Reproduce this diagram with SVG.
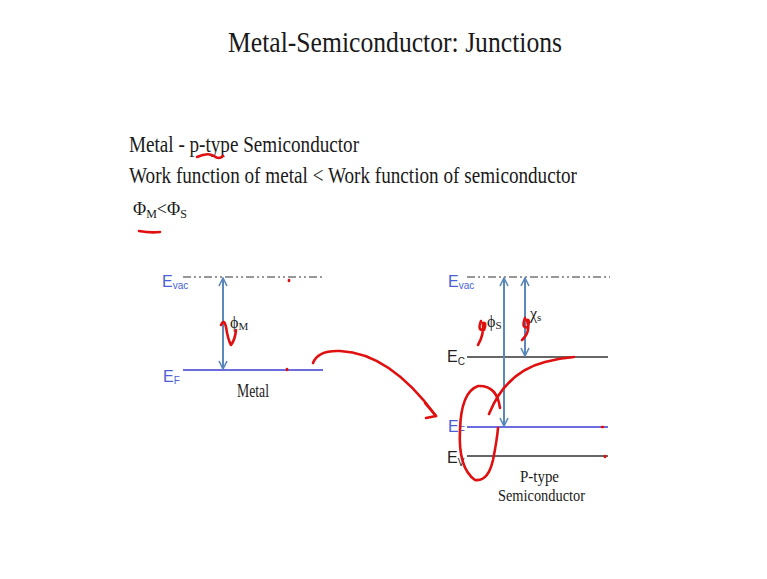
<svg xmlns="http://www.w3.org/2000/svg" width="767" height="579" viewBox="0 0 767 579">
<defs>
<style>
.serif{font-family:"Liberation Serif","Times New Roman",serif;fill:#1a1a1a}
.lbl{font-family:"Liberation Sans",Arial,sans-serif}
.blue{fill:#4a5fd8}
.blk{fill:#222}
.vac{stroke:#333;stroke-width:1.2;stroke-dasharray:8 3 2 3 2 3;fill:none}
.lvl{stroke:#333;stroke-width:1.3}
.ef{stroke:#3b3bd6;stroke-width:1.5}
.arr{stroke:#5b87bb;stroke-width:2;fill:none;marker-start:url(#ah);marker-end:url(#ah)}
.ink{stroke:#e01010;stroke-width:2.6;fill:none;stroke-linecap:round;stroke-linejoin:round}
</style>
<marker id="ah" viewBox="0 0 10 10" refX="9" refY="5" markerWidth="5" markerHeight="5" orient="auto-start-reverse" markerUnits="strokeWidth">
<path d="M1,1 L9,5 L1,9" fill="none" stroke="#5b87bb" stroke-width="1.6"/>
</marker>
</defs>
<rect width="767" height="579" fill="#fff"/>

<g id="title">
<text class="serif" x="228" y="52" font-size="30" textLength="334" lengthAdjust="spacingAndGlyphs">Metal-Semiconductor: Junctions</text>
</g>
<g id="heading">
<text class="serif" x="129" y="152" font-size="23" textLength="230" lengthAdjust="spacingAndGlyphs">Metal - p-type Semiconductor</text>
<text class="serif" x="129" y="183" font-size="23" textLength="448" lengthAdjust="spacingAndGlyphs">Work function of metal &lt; Work function of semiconductor</text>
<text class="serif" x="133" y="215" font-size="18">Φ<tspan font-size="12" dy="3">M</tspan><tspan dy="-3">&lt;Φ</tspan><tspan font-size="12" dy="3">S</tspan></text>
</g>

<g id="metal">
<line class="vac" x1="183" y1="277" x2="323" y2="277"/>
<line class="ef" x1="183" y1="370" x2="323" y2="370"/>
<text class="lbl blue" x="162" y="287" font-size="16">E<tspan font-size="10" dy="2">vac</tspan></text>
<text class="lbl blue" x="163" y="382" font-size="16">E<tspan font-size="10" dy="2">F</tspan></text>
<text class="serif" x="230" y="328" font-size="16">ϕ<tspan font-size="11" dy="2">M</tspan></text>
<text class="serif" x="237" y="397" font-size="18" textLength="32" lengthAdjust="spacingAndGlyphs">Metal</text>
</g>

<g id="semiconductor">
<line class="vac" x1="467" y1="277" x2="610" y2="277"/>
<line class="lvl" x1="467" y1="357" x2="608" y2="357"/>
<line class="ef" x1="467" y1="427" x2="608" y2="427"/>
<line class="lvl" x1="467" y1="456" x2="608" y2="456"/>
<text class="lbl blue" x="448" y="287" font-size="16">E<tspan font-size="10" dy="2">vac</tspan></text>
<text class="lbl blk" x="447" y="362" font-size="16">E<tspan font-size="10" dy="3">C</tspan></text>
<text class="lbl blue" x="448" y="432" font-size="16">E<tspan font-size="10" dy="2">F</tspan></text>
<text class="lbl blk" x="447" y="463" font-size="16">E<tspan font-size="10" dy="3">V</tspan></text>
<text class="serif" x="487" y="327" font-size="16">ϕ<tspan font-size="11" dy="2">S</tspan></text>
<text class="serif" x="530" y="319" font-size="16">χ<tspan font-size="11" dy="2">s</tspan></text>
<text class="serif" x="520" y="482" font-size="16" textLength="39" lengthAdjust="spacingAndGlyphs">P-type</text>
<text class="serif" x="498" y="501" font-size="16" textLength="87" lengthAdjust="spacingAndGlyphs">Semiconductor</text>
</g>

<g id="connectors">
<line class="arr" x1="223" y1="278" x2="223" y2="369"/>
<line class="arr" x1="504" y1="278" x2="504" y2="426"/>
<line class="arr" x1="525" y1="278" x2="525" y2="356"/>
</g>

<g id="annotations">
<path class="ink" d="M197,157 Q208,152 214,156 Q219,160 223,156"/>
<path class="ink" d="M139,231 Q150,233 160,232"/>
<path class="ink" d="M221,325 Q224,318 226,327 Q228,340 231,345 Q235,340 236,330"/>
<path class="ink" d="M289,280 l0,1"/>
<path class="ink" d="M287,369 l0,1"/>
<path class="ink" d="M313,363 Q318,350 340,351 Q390,353 436,416"/>
<path class="ink" d="M425,403 L436,416 L426,418"/>
<path class="ink" d="M481,321 Q477,331 484,330 Q487,322 483,323 Q484,335 478,345"/>
<path class="ink" d="M525,318 Q521,329 528,327 Q530,319 527,320 Q531,332 522,340"/>
<path class="ink" d="M489,414 Q506,372 545,362 Q560,358 574,357"/>
<path class="ink" d="M500,408 Q497,385 478,386 Q461,392 460,430 Q458,468 475,480 Q488,482 493,460 Q497,440 498,428"/>
<path class="ink" d="M602,427 l1,0"/>
<path class="ink" d="M605,456 l0,1"/>
</g>
</svg>
